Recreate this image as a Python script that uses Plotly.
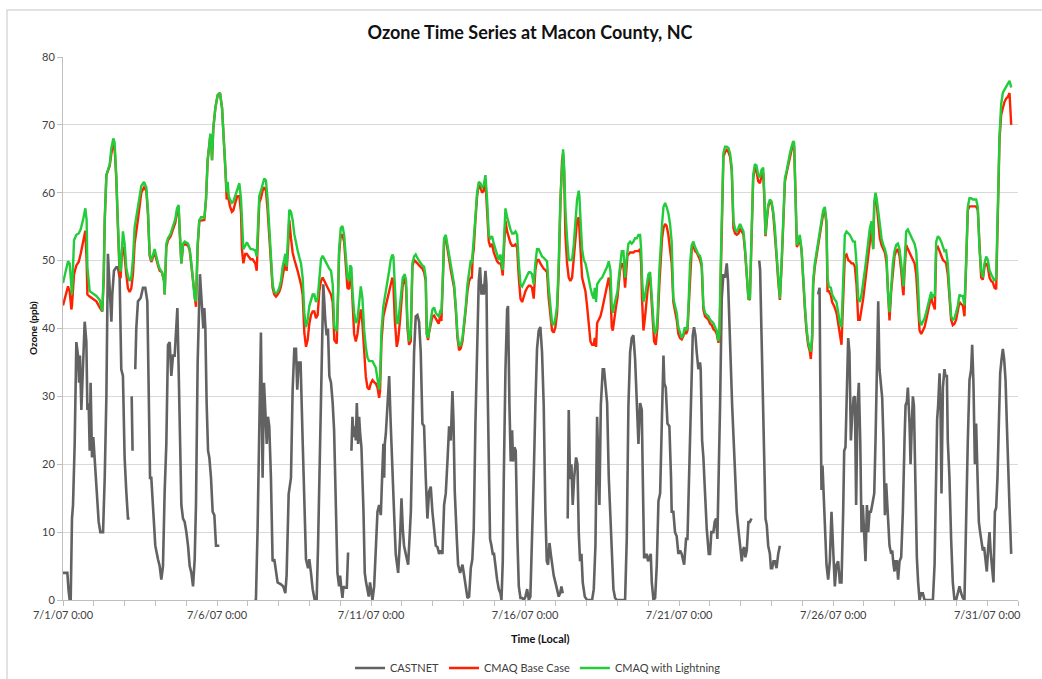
import pandas as pd
import plotly.graph_objects as go

# Hourly ozone at the Macon County, NC site, July 2007.
# Times are hours after 7/1/07 0:00 (local); None marks missing observations.

CASTNET_HOURS = [
    0, 1.5, 3.4, 4.3, 5.2, 6.0, 7.0, 7.8, 9.1, 10.4,
    11.7, 12.5, 13.2, 14.3, 15.6, 16.9, 18.2, 19.0, 20.0, 20.8,
    21.5, 22.6, 23.6, 24.7, 26.0, 27.8, 29.1, 31.2, 32.5, 33.8,
    35.0, 36.4, 37.7, 38.4, 39.7, 41.5, 42.8, 44.1, 45.4, 46.7,
    48.0, 49.3, 50.6, 51.9, 52.7, 53.5, 54.2, 55.2, 56.3, 57.1,
    58.4, 60.5, 62.3, 64.1, 65.7, 66.7, 67.8, 68.8, 70.1, 71.9,
    74.0, 75.3, 76.6, 77.9, 79.2, 80.5, 81.8, 83.1, 84.4, 85.7,
    87.0, 88.3, 89.1, 90.1, 91.1, 92.2, 93.5, 94.8, 96.1, 97.4,
    98.7, 100.0, 101.3, 102.6, 103.6, 104.9, 106.7, 108.3, 109.3, 110.1,
    110.9, 111.9, 113.0, 114.0, 115.3, 116.6, 117.9, 119.2, 121.8, 135.0,
    149.1, 150.3, 151.6, 152.9, 154.2, 155.5, 156.6, 157.6, 158.7, 159.7,
    160.7, 162.0, 163.3, 164.6, 165.9, 167.2, 169.8, 171.6, 173.2, 174.2,
    175.8, 177.6, 178.9, 180.2, 181.5, 182.5, 183.6, 185.1, 186.7, 188.3,
    189.3, 190.9, 191.9, 193.2, 194.5, 196.1, 197.6, 198.7, 200.2, 201.8,
    202.8, 204.4, 205.4, 206.4, 207.5, 208.8, 210.1, 211.2, 212.5, 213.8,
    215.1, 215.9, 216.9, 217.7, 218.5, 219.5, 221.1, 222.1, 223.4, 224.7,
    225.5, 226.3, 227.3, 228.1, 228.9, 229.9, 230.7, 231.5, 232.5, 234.1,
    235.1, 236.1, 237.2, 238.2, 239.2, 240.3, 241.1, 242.4, 243.7, 245.0,
    246.3, 247.6, 248.6, 249.6, 250.2, 250.7, 251.5, 252.8, 254.1, 255.3,
    256.6, 257.9, 259.2, 261.1, 262.6, 263.7, 264.7, 265.7, 267.0, 268.9,
    271.0, 272.2, 273.5, 274.8, 276.1, 277.4, 278.7, 280.0, 281.3, 282.6,
    283.9, 285.2, 286.5, 287.8, 289.1, 290.4, 291.7, 293.0, 294.3, 295.6,
    296.9, 298.2, 299.5, 300.8, 302.1, 303.4, 304.2, 305.2, 306.8, 307.8,
    309.4, 311.2, 312.5, 313.8, 315.1, 316.4, 317.7, 318.9, 320.0, 321.3,
    322.6, 323.9, 324.9, 326.0, 327.0, 327.8, 329.1, 329.9, 330.6, 331.7,
    332.7, 333.8, 334.8, 335.8, 336.9, 338.2, 339.5, 340.8, 341.6, 342.6,
    343.4, 344.7, 346.0, 346.7, 347.8, 348.8, 349.9, 350.6, 351.7, 352.7,
    354.0, 355.1, 356.4, 357.7, 359.0, 360.3, 361.6, 362.9, 364.1, 365.4,
    366.7, 368.0, 369.3, 370.6, 371.9, 373.2, 374.5, 375.8, 376.9, 377.9,
    379.0, 380.0, 381.0, 382.3, 383.6, 384.9, 386.2, 387.3, 388.3, 389.3,
    391.2, 393.2, 394.0, 395.0, 396.1, 397.1, 398.2, 399.7, 400.8, 401.8,
    402.8, 403.9, 404.9, 406.5, 408.3, 410.1, 412.2, 413.5, 414.8, 416.1,
    416.9, 417.9, 419.0, 420.5, 421.5, 422.6, 423.9, 425.2, 426.2, 427.5,
    428.8, 430.1, 431.4, 437.9, 439.2, 440.5, 441.8, 443.1, 444.4, 445.7,
    447.0, 448.3, 449.6, 450.9, 451.7, 452.7, 453.7, 454.8, 455.8, 456.8,
    457.9, 458.7, 460.0, 461.3, 462.6, 463.9, 465.2, 466.5, 467.8, 468.5,
    469.6, 470.9, 472.4, 473.7, 474.2, 475.5, 476.8, 478.1, 479.4, 480.7,
    482.0, 483.9, 485.4, 486.5, 487.5, 489.0, 490.6, 491.6, 492.7, 493.7,
    495.0, 496.3, 496.8, 497.9, 498.9, 500.2, 501.5, 503.1, 504.1, 505.1,
    506.7, 507.7, 508.8, 509.8, 510.9, 511.9, 513.2, 514.5, 515.8, 517.1,
    518.1, 519.2, 520.2, 521.3, 522.3, 523.6, 524.9, 526.4, 527.5, 528.8,
    529.6, 530.6, 531.6, 532.7, 534.0, 535.1, 536.4, 539.4, 542.4, 543.1,
    544.2, 545.2, 546.3, 547.3, 548.3, 549.4, 550.7, 551.5, 552.5, 553.5,
    554.6, 555.9, 557.2, 558.5, 573.0, 588.3, 589.4, 589.9, 590.4, 590.9,
    591.7, 592.5, 593.5, 594.8, 596.1, 597.4, 598.7, 600.0, 601.3, 602.6,
    603.9, 605.2, 606.5, 607.8, 608.6, 609.6, 610.4, 611.7, 612.7, 613.8,
    614.8, 615.9, 616.9, 617.9, 619.0, 620.0, 621.1, 622.1, 623.1, 624.2,
    625.2, 626.3, 627.3, 628.3, 629.4, 630.4, 632.0, 633.0, 634.0, 635.1,
    636.1, 637.2, 638.2, 639.2, 640.3, 641.3, 642.6, 643.9, 645.2, 646.0,
    647.0, 647.8, 648.6, 649.6, 650.6, 651.7, 653.0, 654.3, 655.6, 656.4,
    657.4, 658.2, 659.5, 660.3, 661.3, 662.1, 662.9, 663.9, 665.2, 666.2,
    667.3, 668.6, 669.9, 671.2, 677.7, 679.0, 680.3, 681.0, 681.8, 682.9,
    683.6, 684.4, 685.5, 686.7, 687.5, 688.6, 689.3, 690.6, 691.9, 693.2,
    694.5, 695.8, 697.1, 698.4, 699.7, 701.0, 702.3, 703.6, 704.9, 706.2,
    707.5, 708.3, 709.3, 710.4, 711.4, 712.5, 713.5, 714.5, 715.6, 716.6,
    717.6, 718.7, 719.7, 720.8, 721.8, 722.8, 723.9, 724.9, 726.0, 727.0,
    728.0, 729.1, 730.1, 731.2, 732.2, 733.2, 734.3, 735.3, 736.3, 737.4,
    738.7,
]

CASTNET_PPB = [
    4, 4, 4, 1.5, 0, 0, 12, 14, 23, 38,
    36, 32, 36, 28, 34, 41, 38, 28, 29, 22,
    32, 21, 24, 21, 16, 11.5, 10, 10, 18, 30,
    51, 45, 41, 45, 48.5, 49, 49, 47.5, 34, 33,
    21, 16, 12, 12, None, 30, 22, None, 34, 40,
    44, 44.5, 46, 46, 44, 34, 18, 18, 13, 8,
    6, 5, 3, 5, 16, 23, 37.6, 38, 33, 36,
    36, 41, 43, 34, 23, 14, 12, 11.5, 10, 8,
    5, 4, 2, 6, 14, 35, 48, 43, 40, 43,
    40, 29, 22, 21, 18, 13, 12.5, 8, 8, None,
    0, 0, 10.5, 26, 39.4, 18, 32, 28, 23, 27,
    25.6, 18, 5.7, 6, 4, 2.6, 2.3, 2, 1, 3.6,
    15.6, 18, 31, 37, 37, 31, 35, 35, 23.5, 13,
    6, 4.7, 6, 4, 1.6, 0, 0, 8, 23.5, 39,
    46.5, 41, 39, 40, 33, 32, 29, 25, 13, 4,
    2, 3.6, 1.6, 0.3, 2, 1.8, 1.8, 7, None, 22,
    27, 24, 25.6, 23.5, 29, 23, 27, 24.5, 22.5, 13,
    4, 2.6, 1.6, 0.5, 2.6, 1, 0, 2, 6.8, 13,
    14, 12.5, 18, 23, 18, 23, 24.5, 29, 33, 26,
    18, 13, 6.8, 4, 9, 15, 10.5, 8, 6.8, 5.2,
    13, 26, 36.5, 41.8, 42, 41, 36.5, 26, 25.6, 18,
    12, 16, 16.7, 13, 10.5, 8, 7.8, 6.8, 7.3, 6.8,
    14, 15.7, 20.4, 25.6, 23.5, 30.8, 26.6, 16, 9, 5.2,
    4, 5.2, 3.6, 1.6, 0.3, 0.5, 4.7, 6, 10.5, 26,
    39, 47, 49, 45, 46.5, 45, 48.5, 46.5, 34, 18,
    9, 8, 6.8, 6.8, 4.7, 3, 1.6, 1, 0, 5.7,
    18, 34, 42.8, 43.3, 28.7, 20.4, 25, 20.4, 22.5, 22,
    9, 2, 0.3, 0.3, 0, 0.5, 1.6, 0, 0.5, 8,
    18, 28.7, 37, 39.7, 40.2, 36.5, 28.7, 13, 5.7, 5.2,
    8.4, 6.8, 5.2, 3.6, 2.6, 1.6, 0.5, 1, 2, 1,
    None, 12, 28, 17.8, 20, 14, 18, 21, 20, 10,
    5.7, 6.8, 2.6, 0.5, 0, 0, 0, 1.6, 8, 27,
    22, 14, 28.7, 34, 34, 31, 29, 18, 13, 5.2,
    1.6, 0.3, 0, 0, 9, 28.7, 36.5, 38.6, 39, 35.5,
    28.7, 23, 29, 28, 18, 6.3, 6.3, 6.8, 5.7, 6.3,
    6.8, 2.6, 0, 0.3, 5.2, 14.6, 15.7, 26, 36, 31.9,
    31.3, 26, 25.6, 18, 13, 13, 10, 9.4, 6.8, 7.3,
    6.8, 5.2, 9, 9, 15.7, 26, 39, 40.2, 39, 36.5,
    34, 35, 34, 23.5, 21, 15.7, 10.5, 6.8, 6.8, 10,
    10, 11.5, 12, 9, 18, 28.7, 44.4, 48, 47.5, 49.6,
    47, 39, 35, 28.7, 23.5, 17.8, 13, 10, 8, 5.7,
    7.3, 7.8, 6.3, 7.3, 11.5, 11.5, 12, None, 50, 48.6,
    39, 28.7, 18, 12, 11, 8, 6.8, 4.7, 4.7, 5.7,
    5.7, 4.7, 6.8, 8, None, 45, 46, 34, 23.5, 16.2,
    19.8, 15.7, 10.5, 5.2, 3, 5.7, 13, 6.8, 2, 5.2,
    5.7, 2.6, 2.6, 13, 22, 22.5, 28.7, 38.6, 36.5, 23.5,
    27, 29.8, 30, 14, 28.7, 32, 23.5, 10, 14, 10,
    5.7, 14, 10, 13, 13, 14, 15.7, 23.5, 34, 44,
    34, 31.3, 29.8, 23.5, 12.5, 17.2, 12, 8, 6.8, 7.3,
    5.2, 4.2, 5.7, 5.7, 3, 5.7, 6.3, 13, 23.5, 28.7,
    29.2, 31.3, 26, 20, 26, 30, 28.7, 18, 6.3, 2.6,
    0, 1, 1, 0, 0, 5.2, 23.5, 26.6, 28.7, 33.4,
    28.7, 15.7, 31.3, 34, 33, 33, 23.5, 18, 9, 2.6,
    0, 0, 1, 2, 1, 0.3, 0, 13, 23.5, 32.4,
    34, 37.6, 31.9, 20, 26, 18, 11.5, 10, 8.4, 7.3,
    7.8, 5.7, 4.2, 7.8, 10, 6.8, 4.2, 2.6, 13, 13.6,
    18, 26, 33.4, 35.5, 37, 35.5, 32.4, 26, 18, 13.6,
    6.8,
]

MODEL_HOURS = [
    0, 2.6, 3.9, 5.2, 6.5, 7.0, 8.6, 10.4, 12.2, 13.8,
    15.6, 17.4, 18.4, 19.0, 20.8, 23.4, 26.0, 28.6, 30.6, 31.7,
    32.5, 33.8, 35.0, 36.4, 37.7, 39.2, 40.2, 41.5, 42.8, 44.1,
    44.9, 46.0, 46.7, 48.0, 49.3, 50.6, 51.9, 53.2, 54.5, 55.8,
    58.4, 61.0, 63.1, 64.9, 66.2, 67.5, 68.8, 70.1, 71.4, 74.0,
    75.3, 77.1, 78.7, 79.2, 80.5, 81.8, 83.9, 85.7, 87.5, 88.8,
    90.1, 90.9, 92.2, 93.5, 94.8, 97.4, 98.7, 100.0, 101.3, 102.6,
    103.6, 104.9, 106.2, 107.5, 108.8, 110.1, 111.4, 112.7, 114.0, 114.8,
    115.5, 116.1, 117.1, 118.7, 120.5, 122.3, 123.9, 125.4, 126.5, 127.5,
    128.3, 129.1, 130.1, 131.6, 132.7, 134.2, 135.8, 137.4, 138.7, 139.4,
    140.5, 142.0, 143.3, 144.6, 146.2, 147.7, 149.8, 150.9, 151.9, 152.9,
    154.2, 155.5, 156.8, 158.1, 159.4, 160.7, 162.0, 163.3, 164.6, 165.9,
    167.2, 168.5, 169.8, 171.1, 172.4, 173.2, 174.2, 175.3, 176.3, 177.6,
    178.9, 180.2, 181.5, 182.8, 184.1, 185.4, 186.7, 188.0, 189.3, 190.6,
    191.9, 193.2, 194.5, 195.8, 197.1, 198.4, 199.7, 201.0, 202.3, 203.6,
    204.9, 206.2, 207.5, 208.8, 210.1, 211.4, 213.3, 214.3, 215.1, 216.4,
    217.7, 219.0, 220.3, 221.6, 222.9, 223.7, 224.7, 225.5, 226.8, 228.1,
    229.4, 230.7, 232.0, 233.3, 234.6, 235.9, 237.2, 238.5, 239.8, 241.1,
    242.4, 243.7, 245.0, 246.3, 247.0, 248.1, 249.6, 251.5, 252.8, 254.1,
    255.3, 256.6, 257.4, 258.5, 260.0, 261.1, 262.6, 263.7, 264.7, 266.3,
    267.3, 268.3, 269.6, 270.9, 272.2, 273.5, 274.8, 276.1, 277.4, 278.7,
    280.0, 281.3, 282.6, 283.4, 284.4, 285.2, 286.5, 287.8, 289.1, 290.4,
    291.7, 292.7, 293.8, 294.8, 295.9, 296.9, 298.2, 299.5, 300.8, 302.1,
    303.4, 304.7, 306.0, 307.3, 308.6, 309.9, 311.2, 312.5, 313.8, 315.1,
    316.4, 317.7, 318.5, 319.2, 320.0, 321.3, 322.6, 323.9, 325.2, 326.5,
    327.8, 329.1, 330.4, 331.7, 333.0, 334.3, 335.6, 336.9, 338.2, 339.5,
    340.8, 341.6, 342.6, 343.4, 344.7, 346.0, 347.3, 348.6, 349.9, 351.2,
    352.5, 353.8, 355.1, 356.4, 357.7, 359.0, 360.3, 361.6, 362.9, 364.1,
    365.4, 366.7, 368.0, 369.3, 370.6, 371.9, 373.2, 374.5, 375.8, 377.1,
    378.4, 379.7, 381.0, 382.3, 383.6, 384.9, 386.2, 387.5, 388.8, 389.6,
    390.4, 391.4, 392.7, 394.0, 395.3, 396.6, 397.9, 399.2, 400.5, 401.8,
    402.3, 403.1, 404.4, 405.7, 407.0, 408.3, 409.6, 410.9, 412.2, 413.5,
    414.3, 415.3, 416.1, 417.4, 418.7, 420.0, 421.3, 422.6, 423.9, 425.2,
    426.5, 427.5, 428.3, 429.3, 430.9, 431.9, 433.0, 434.0, 435.3, 436.6,
    437.9, 438.7, 439.7, 440.5, 441.8, 443.1, 444.4, 445.7, 447.0, 448.3,
    449.6, 450.4, 451.1, 452.2, 453.5, 454.8, 456.1, 457.4, 458.4, 459.4,
    460.5, 461.8, 463.1, 464.6, 465.7, 466.7, 467.8, 469.1, 470.3, 471.6,
    472.9, 474.2, 475.5, 476.8, 478.1, 479.4, 480.7, 482.0, 483.3, 484.4,
    485.4, 486.5, 487.5, 488.5, 489.8, 491.1, 492.4, 493.7, 495.0, 496.3,
    497.6, 498.9, 500.2, 501.5, 502.8, 504.1, 505.4, 506.7, 508.0, 509.3,
    510.6, 511.4, 512.4, 513.5, 514.5, 515.8, 517.1, 518.4, 519.7, 521.0,
    522.3, 523.6, 524.9, 526.2, 527.5, 528.8, 530.1, 531.4, 532.7, 534.0,
    535.1, 536.4, 537.7, 539.0, 540.3, 541.6, 542.9, 544.2, 545.5, 546.3,
    547.3, 548.3, 549.4, 550.7, 552.0, 553.3, 554.6, 555.9, 557.2, 558.5,
    559.8, 561.1, 562.4, 563.7, 565.0, 566.3, 567.6, 568.9, 569.6, 570.7,
    571.7, 572.8, 574.0, 575.4, 576.7, 578.0, 579.2, 580.5, 581.8, 582.6,
    583.7, 584.4, 585.7, 587.0, 588.3, 589.6, 590.9, 592.2, 593.5, 594.8,
    595.6, 596.6, 598.2, 599.2, 600.8, 602.6, 603.9, 605.2, 606.5, 607.8,
    609.1, 610.4, 611.7, 613.0, 614.3, 615.6, 616.9, 618.2, 619.5, 620.8,
    622.1, 623.4, 624.7, 626.0, 627.3, 628.6, 629.9, 631.2, 632.0, 633.0,
    634.0, 635.1, 636.4, 637.7, 639.0, 640.3, 641.6, 642.6, 643.9, 645.2,
    646.5, 647.8, 649.1, 650.4, 651.7, 653.0, 654.3, 654.8, 655.6, 656.9,
    658.2, 659.5, 660.8, 662.1, 663.4, 664.7, 666.0, 667.3, 668.6, 669.9,
    671.2, 672.5, 673.8, 675.1, 676.4, 677.1, 678.2, 679.2, 680.3, 681.6,
    682.9, 684.2, 685.5, 686.7, 688.0, 689.3, 690.6, 691.9, 693.2, 694.5,
    695.8, 697.1, 698.4, 699.7, 701.0, 702.3, 703.6, 704.9, 706.2, 707.5,
    708.8, 710.1, 711.4, 712.7, 714.0, 715.3, 716.6, 717.9, 719.2, 720.5,
    721.8, 723.1, 724.4, 725.7, 727.0, 728.3, 729.6, 730.9, 732.2, 733.5,
    734.8, 736.1, 737.4, 738.7,
]

BASE_CASE_PPB = [
    43.4, 45.5, 46.2, 45.5, 42.8, 43.4, 48.0, 49.3, 49.8, 51.0,
    52.5, 54.4, 50.0, 45.0, 44.7, 44.4, 44.0, 43.1, 42.5, 47.0,
    55.9, 62.6, 63.2, 64.0, 65.8, 67.1, 66.6, 62.1, 54.8, 48.0,
    47.4, 51.7, 52.0, 50.6, 48.0, 45.9, 45.4, 45.9, 48.0, 52.5,
    56.1, 60.0, 60.8, 60.3, 56.8, 50.7, 49.8, 50.7, 51.2, 49.3,
    48.5, 48.3, 47.0, 45.0, 52.0, 53.0, 53.6, 54.6, 55.6, 57.2,
    57.7, 54.3, 49.6, 52.2, 52.5, 52.2, 51.5, 49.3, 46.7, 44.2,
    43.2, 52.0, 55.9, 55.9, 55.9, 56.0, 59.0, 64.8, 67.1, 68.5,
    67.2, 64.8, 69.5, 72.5, 74.4, 74.7, 72.5, 68.0, 63.5, 59.0,
    60.1, 59.0, 58.0, 57.2, 57.4, 58.5, 59.5, 59.5, 57.0, 51.7,
    49.6, 51.0, 51.0, 50.6, 50.2, 50.2, 49.6, 48.5, 54.9, 58.5,
    59.2, 60.3, 60.8, 60.3, 57.4, 53.3, 48.6, 46.0, 45.0, 44.7,
    45.0, 45.4, 46.2, 48.0, 49.1, 49.6, 48.5, 51.7, 56.0, 53.3,
    51.2, 50.2, 49.1, 48.5, 47.5, 46.5, 45.0, 39.4, 37.3, 38.3,
    40.7, 42.0, 42.5, 42.5, 41.5, 42.0, 45.5, 47.0, 47.5, 47.0,
    46.5, 46.2, 45.5, 45.0, 43.9, 38.3, 37.8, 44.4, 51.0, 53.8,
    53.8, 52.8, 49.6, 46.0, 45.8, 48.0, 47.5, 43.3, 39.2, 38.1,
    39.2, 41.3, 42.8, 40.7, 36.6, 32.9, 31.3, 31.0, 31.9, 32.4,
    32.1, 31.9, 31.3, 29.8, 30.8, 38.1, 41.8, 43.3, 44.4, 45.4,
    46.5, 47.5, 46.5, 41.3, 37.3, 38.3, 41.3, 44.4, 46.5, 47.5,
    46.0, 40.2, 37.6, 38.1, 49.1, 50.1, 49.9, 49.6, 49.3, 49.1,
    48.8, 48.3, 47.0, 39.2, 38.3, 39.4, 40.8, 41.8, 41.9, 41.4,
    41.1, 40.7, 41.9, 41.1, 47.0, 52.8, 53.3, 52.0, 50.2, 48.6,
    47.0, 46.0, 42.8, 38.6, 36.8, 37.1, 38.1, 40.2, 42.8, 45.5,
    47.0, 47.5, 47.5, 50.6, 51.7, 56.0, 59.5, 61.1, 60.8, 60.0,
    60.3, 61.9, 58.0, 52.8, 52.0, 52.5, 51.2, 50.4, 49.9, 49.6,
    49.6, 49.1, 47.8, 51.2, 55.9, 54.3, 53.3, 52.6, 52.2, 52.2,
    52.4, 51.9, 47.5, 44.4, 43.9, 44.9, 45.5, 46.0, 46.3, 46.3,
    46.0, 44.4, 48.6, 50.1, 50.1, 49.6, 49.1, 48.8, 48.6, 48.3,
    44.4, 41.8, 39.7, 39.4, 40.2, 42.3, 48.5, 58.5, 64.8, 65.8,
    63.2, 53.8, 49.6, 47.5, 47.0, 47.5, 50.7, 53.8, 55.9, 56.4,
    55.0, 51.2, 47.5, 46.5, 45.5, 43.3, 40.2, 38.1, 37.6, 37.6,
    38.6, 37.3, 40.8, 41.3, 41.8, 42.8, 43.9, 45.0, 46.5, 47.5,
    45.5, 40.2, 39.7, 41.3, 43.3, 44.4, 46.5, 48.6, 49.6, 49.1,
    46.0, 48.6, 50.7, 50.9, 51.2, 51.2, 51.2, 51.4, 51.4, 51.4,
    51.7, 49.6, 44.4, 39.7, 41.8, 44.4, 47.0, 47.5, 44.4, 41.5,
    38.1, 37.6, 40.2, 46.5, 50.7, 53.3, 54.8, 55.4, 55.1, 53.8,
    51.7, 49.6, 43.9, 42.8, 41.3, 39.2, 38.6, 38.4, 38.9, 39.7,
    39.2, 39.7, 43.9, 48.6, 51.7, 52.2, 51.4, 51.2, 50.7, 50.1,
    49.1, 42.8, 41.8, 41.5, 41.3, 40.7, 40.5, 39.9, 39.7, 39.2,
    37.9, 38.6, 49.1, 59.0, 65.3, 66.0, 66.3, 66.0, 65.3, 63.2,
    54.8, 54.0, 53.8, 54.0, 54.6, 54.3, 53.8, 51.2, 48.0, 44.4,
    44.2, 54.3, 62.1, 63.7, 63.2, 61.7, 61.4, 62.4, 62.9, 59.5,
    53.6, 55.9, 57.9, 58.7, 58.5, 56.9, 54.3, 50.6, 47.0, 44.2,
    49.1, 56.9, 61.6, 62.9, 64.2, 65.3, 66.3, 67.1, 66.8, 59.5,
    52.0, 52.5, 53.3, 51.4, 46.5, 42.8, 39.7, 37.6, 36.6, 35.5,
    38.6, 46.5, 49.1, 50.6, 52.2, 53.6, 55.1, 56.9, 57.4, 55.4,
    45.5, 45.5, 44.9, 43.9, 43.3, 42.3, 40.8, 39.2, 37.6, 44.4,
    50.7, 50.9, 50.1, 49.9, 49.6, 49.6, 49.1, 46.5, 41.3, 41.3,
    42.8, 44.4, 46.5, 48.5, 50.7, 53.3, 54.8, 51.7, 58.2, 59.2,
    58.2, 55.9, 53.3, 52.3, 51.7, 51.2, 49.6, 44.9, 41.2, 45.5,
    48.6, 50.7, 51.4, 51.7, 50.7, 48.6, 45.5, 44.9, 48.5, 52.3,
    51.7, 51.2, 50.7, 50.1, 49.6, 48.0, 44.4, 39.7, 39.2, 39.7,
    40.2, 41.3, 42.3, 43.6, 44.9, 43.9, 43.4, 42.8, 51.7, 52.0,
    51.4, 50.7, 50.1, 49.9, 49.6, 48.0, 44.4, 41.3, 40.5, 40.7,
    41.3, 42.6, 43.9, 43.6, 43.4, 41.8, 48.5, 57.4, 58.0, 58.0,
    58.0, 58.0, 58.0, 57.4, 51.2, 47.5, 47.2, 49.1, 49.6, 49.1,
    47.5, 47.0, 46.8, 46.0, 45.8, 59.0, 67.9, 71.5, 72.6, 73.4,
    73.9, 74.1, 74.7, 70.0,
]

LIGHTNING_PPB = [
    46.7, 49.0, 49.9, 49.6, 47.0, 45.0, 53.0, 53.8, 54.0, 54.6,
    56.0, 57.7, 56.0, 49.0, 45.5, 45.2, 44.8, 44.2, 42.5, 48.0,
    56.0, 62.6, 63.4, 64.2, 66.6, 68.0, 67.4, 62.6, 55.5, 49.0,
    48.4, 52.0, 54.3, 52.5, 49.0, 47.7, 47.0, 47.5, 50.2, 54.9,
    58.0, 61.0, 61.6, 60.8, 57.4, 51.0, 50.0, 51.0, 51.7, 49.6,
    48.8, 48.3, 47.0, 45.0, 52.5, 53.3, 54.0, 55.1, 56.1, 57.7,
    58.2, 54.6, 49.6, 52.5, 52.8, 52.5, 51.7, 49.6, 47.0, 44.4,
    44.0, 52.5, 55.9, 56.4, 56.4, 56.2, 59.0, 64.8, 67.1, 68.7,
    67.4, 64.8, 69.5, 72.5, 74.4, 74.7, 72.5, 68.0, 63.7, 60.1,
    61.6, 59.5, 59.0, 58.5, 58.7, 59.5, 60.6, 61.4, 59.0, 54.9,
    51.7, 52.2, 52.7, 52.2, 51.7, 51.7, 51.5, 50.6, 56.4, 59.5,
    60.3, 61.4, 62.1, 61.8, 59.0, 54.9, 49.6, 46.5, 45.4, 45.2,
    45.4, 46.0, 47.0, 49.1, 50.2, 51.0, 49.1, 52.7, 57.5, 57.2,
    56.0, 53.9, 52.5, 51.5, 50.5, 49.6, 47.5, 42.3, 40.2, 41.3,
    43.3, 44.4, 45.0, 45.0, 43.9, 44.4, 48.0, 50.2, 50.7, 50.2,
    49.6, 49.3, 48.8, 48.5, 46.5, 40.2, 39.6, 45.0, 51.7, 54.8,
    55.1, 53.8, 50.7, 47.5, 47.0, 49.3, 49.0, 45.5, 42.4, 40.8,
    41.3, 43.3, 46.2, 44.4, 39.8, 37.3, 35.7, 35.2, 35.2, 35.2,
    34.7, 34.2, 32.6, 31.0, 32.6, 39.7, 43.3, 45.4, 46.5, 48.5,
    50.1, 50.9, 50.6, 45.4, 40.8, 40.8, 43.3, 45.9, 47.5, 48.0,
    47.0, 41.3, 38.1, 39.2, 49.6, 50.6, 50.9, 50.4, 49.9, 49.6,
    49.3, 49.1, 47.5, 39.2, 38.6, 39.7, 41.3, 42.8, 43.1, 42.3,
    42.0, 41.8, 42.5, 42.3, 47.5, 53.3, 53.8, 52.3, 50.7, 49.1,
    47.5, 46.5, 43.3, 39.2, 37.4, 37.6, 38.6, 40.8, 43.3, 46.5,
    48.5, 50.1, 49.6, 51.7, 52.8, 56.4, 60.0, 61.6, 61.4, 60.8,
    61.1, 62.6, 59.0, 53.8, 53.3, 53.6, 52.5, 51.7, 50.9, 50.1,
    50.9, 50.1, 48.6, 52.3, 57.7, 56.4, 55.4, 54.6, 54.0, 54.0,
    54.3, 53.8, 49.6, 46.5, 46.2, 46.8, 47.3, 47.8, 48.3, 48.3,
    48.0, 46.5, 49.6, 51.7, 51.7, 51.1, 50.6, 50.4, 50.1, 49.9,
    46.0, 43.3, 40.8, 40.5, 41.5, 43.3, 49.6, 59.0, 65.3, 66.4,
    63.7, 57.5, 53.3, 50.1, 50.1, 50.1, 52.3, 56.4, 59.0, 60.3,
    59.5, 56.4, 51.7, 50.1, 49.6, 48.5, 47.0, 46.0, 45.0, 44.4,
    46.0, 43.9, 46.5, 47.0, 47.3, 47.5, 48.0, 48.5, 49.1, 49.9,
    48.5, 43.3, 42.3, 43.3, 44.4, 45.4, 47.5, 49.6, 51.4, 51.4,
    47.5, 49.6, 51.7, 52.5, 52.8, 52.5, 52.8, 53.3, 53.3, 53.8,
    53.8, 51.7, 47.5, 43.9, 44.9, 46.5, 48.0, 48.3, 45.4, 42.3,
    39.7, 39.2, 41.3, 48.6, 52.8, 55.4, 57.9, 58.5, 57.9, 57.0,
    55.4, 52.8, 44.4, 43.3, 42.3, 40.2, 39.2, 38.6, 39.2, 40.2,
    39.7, 40.2, 44.4, 49.6, 52.3, 52.8, 52.0, 51.4, 50.9, 50.7,
    49.6, 43.3, 42.3, 42.0, 41.8, 41.3, 41.0, 40.8, 40.2, 39.7,
    38.1, 39.2, 49.6, 60.0, 65.8, 66.8, 66.8, 66.6, 65.8, 63.7,
    55.9, 54.6, 54.3, 54.8, 55.4, 54.8, 54.3, 51.7, 48.6, 44.4,
    44.4, 54.8, 62.6, 64.2, 64.0, 62.6, 62.3, 63.4, 63.7, 60.1,
    53.8, 56.4, 58.2, 59.0, 58.7, 57.2, 54.8, 51.0, 47.5, 44.4,
    49.6, 57.2, 62.1, 63.2, 64.8, 65.8, 66.8, 67.6, 67.4, 60.0,
    52.3, 52.8, 53.8, 51.7, 47.0, 43.3, 40.2, 38.1, 37.0, 36.6,
    39.2, 47.0, 49.6, 51.1, 52.6, 54.2, 55.8, 57.4, 57.9, 55.8,
    47.5, 46.2, 46.0, 45.0, 44.4, 43.9, 42.4, 40.8, 40.2, 47.0,
    53.8, 54.3, 54.0, 53.8, 53.3, 52.8, 52.8, 49.6, 44.4, 43.9,
    45.0, 46.5, 48.6, 50.6, 52.8, 54.8, 55.8, 51.7, 58.7, 60.0,
    59.0, 57.0, 54.8, 53.3, 52.3, 51.7, 50.7, 45.5, 42.4, 46.5,
    49.6, 51.4, 52.3, 52.5, 51.7, 49.6, 47.0, 46.2, 49.6, 54.3,
    54.6, 54.0, 53.6, 53.0, 52.5, 51.4, 47.0, 41.3, 40.5, 41.0,
    41.5, 42.4, 43.4, 44.4, 45.4, 44.4, 44.9, 44.9, 52.8, 53.6,
    53.3, 52.8, 52.0, 51.4, 51.5, 49.6, 45.5, 41.8, 41.3, 41.5,
    42.4, 43.4, 45.0, 44.8, 44.8, 43.4, 49.6, 57.9, 59.2, 59.2,
    59.0, 59.0, 59.0, 57.9, 51.7, 48.6, 47.5, 49.6, 50.6, 50.1,
    48.6, 48.0, 47.5, 47.0, 47.5, 60.0, 68.4, 73.1, 74.7, 75.2,
    75.7, 76.2, 76.5, 75.5,
]

SERIES_NAMES = ["CASTNET", "CMAQ Base Case", "CMAQ with Lightning"]
TICK_DAYS = [1, 6, 11, 16, 21, 26, 31]
TICK_LABELS = [f"7/{d}/07 0:00" for d in TICK_DAYS]
Y_TICKS = [0, 10, 20, 30, 40, 50, 60, 70, 80]

assert len(CASTNET_HOURS) == len(CASTNET_PPB)
assert len(MODEL_HOURS) == len(BASE_CASE_PPB) == len(LIGHTNING_PPB)

START = pd.Timestamp("2007-07-01 00:00")


def to_time(hours):
    return [START + pd.Timedelta(hours=h) for h in hours]


FONT = "Lato, 'Open Sans', Arial, sans-serif"
TEXT = "#404040"
GRID = "#d9d9d9"
AXIS = "#bfbfbf"

fig = go.Figure()
fig.add_trace(go.Scatter(
    x=to_time(CASTNET_HOURS), y=CASTNET_PPB, name=SERIES_NAMES[0],
    mode="lines", line=dict(color="#626262", width=2.6), connectgaps=False,
))
fig.add_trace(go.Scatter(
    x=to_time(MODEL_HOURS), y=BASE_CASE_PPB, name=SERIES_NAMES[1],
    mode="lines", line=dict(color="#ff2200", width=2.4),
))
fig.add_trace(go.Scatter(
    x=to_time(MODEL_HOURS), y=LIGHTNING_PPB, name=SERIES_NAMES[2],
    mode="lines", line=dict(color="#22cc3a", width=2.4),
))

x_end = START + pd.Timedelta(days=31)
day_ticks = [START + pd.Timedelta(days=d) for d in range(32)]

fig.update_xaxes(
    type="date", range=[START, x_end],
    tickmode="array",
    tickvals=[START + pd.Timedelta(days=d - 1) for d in TICK_DAYS],
    ticktext=TICK_LABELS,
    ticks="outside", ticklen=5, tickcolor=AXIS, tickwidth=1,
    minor=dict(tickmode="array", tickvals=day_ticks, ticks="outside",
               ticklen=5, tickcolor=AXIS, tickwidth=1, showgrid=False),
    showgrid=False, showline=True, linecolor=AXIS, linewidth=1,
    tickfont=dict(family=FONT, size=11, color=TEXT),
    zeroline=False,
)
fig.update_yaxes(
    range=[0, 80], tickmode="array", tickvals=Y_TICKS,
    ticks="outside", ticklen=5, tickcolor=AXIS,
    showgrid=True, gridcolor=GRID, gridwidth=1,
    showline=True, linecolor=AXIS, linewidth=1,
    tickfont=dict(family=FONT, size=11, color=TEXT),
    zeroline=False,
)

W, H = 1042, 679
L, R, T, B = 63, 24, 57, 79
pw, ph = W - L - R, H - T - B


def px_x(x):
    return (x - L) / pw


def px_y(y):
    return (H - B - y) / ph


fig.update_layout(
    width=W, height=H,
    margin=dict(l=L, r=R, t=T, b=B, autoexpand=False),
    paper_bgcolor="white", plot_bgcolor="white",
    font=dict(family=FONT, color=TEXT),
    showlegend=True,
    legend=dict(
        orientation="h", xref="paper", yref="paper",
        x=px_x(538), y=px_y(668), xanchor="center", yanchor="middle",
        font=dict(family=FONT, size=11, color=TEXT),
        itemwidth=30, bgcolor="rgba(0,0,0,0)", tracegroupgap=0,
    ),
    title=dict(
        text="<b>Ozone Time Series at Macon County, NC</b>",
        font=dict(family=FONT, size=18, color="#111111"),
        xref="paper", x=px_x(530), xanchor="center",
        yref="container", y=1 - 33 / H, yanchor="middle",
    ),
    annotations=[
        dict(text="<b>Time (Local)</b>", xref="paper", yref="paper",
             x=px_x(540), y=px_y(638), xanchor="center", yanchor="middle",
             showarrow=False, font=dict(family=FONT, size=11, color="#111111")),
        dict(text="<b>Ozone (ppb)</b>", xref="paper", yref="paper",
             x=px_x(33), y=px_y(328), xanchor="center", yanchor="middle",
             textangle=-90, showarrow=False,
             font=dict(family=FONT, size=10, color="#111111")),
    ],
    shapes=[
        dict(type="rect", xref="paper", yref="paper",
             x0=px_x(7), x1=px_x(1050), y0=px_y(690), y1=px_y(10),
             line=dict(color=GRID, width=1.5), fillcolor="rgba(0,0,0,0)",
             layer="below"),
    ],
)

fig.write_html("out.html")
